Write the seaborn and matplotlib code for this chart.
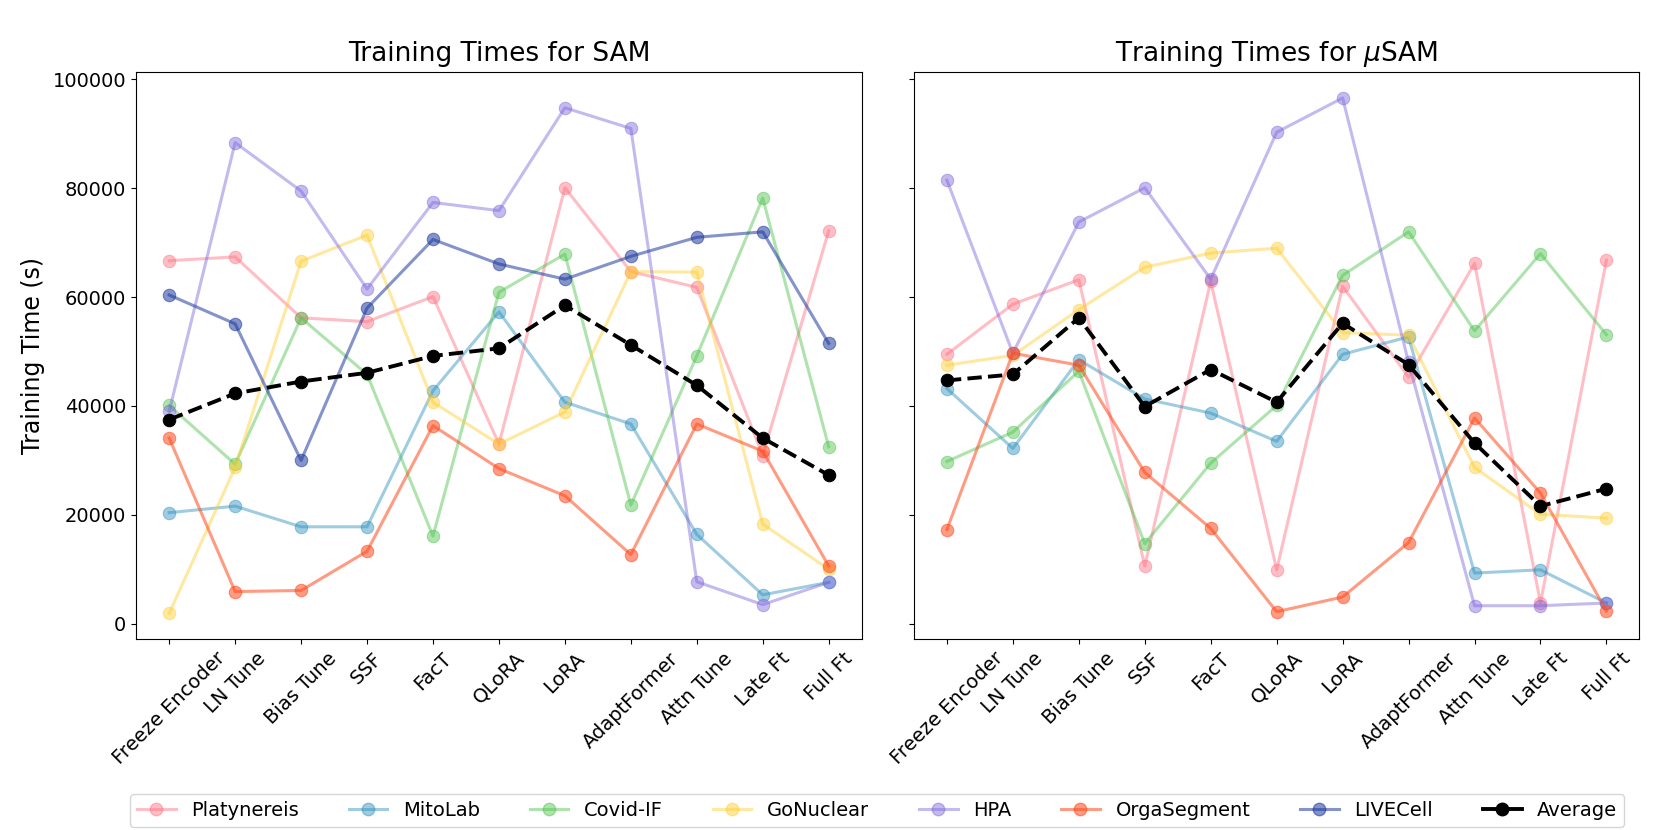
import numpy as np
import pandas as pd
import matplotlib
matplotlib.use("Agg")
import matplotlib.pyplot as plt
import seaborn as sns
from matplotlib.lines import Line2D

methods = ["Freeze Encoder", "LN Tune", "Bias Tune", "SSF", "FacT", "QLoRA",
           "LoRA", "AdaptFormer", "Attn Tune", "Late Ft", "Full Ft"]

datasets = ["Platynereis", "MitoLab", "Covid-IF", "GoNuclear", "HPA", "OrgaSegment", "LIVECell"]

# Training times for SAM (seconds)
sam_platynereis = [66700, 67400, 56200, 55500, 60100, 33000, 80100, 64700, 61800, 30900, 72200]
sam_mitolab     = [20400, 21600, 17800, 17800, 42800, 57300, 40700, 36700, 16400, 5300, 7600]
sam_covid       = [40100, 29300, 56200, 45800, 16100, 60900, 67900, 21800, 49200, 78200, 32500]
sam_gonuclear   = [1900, 28700, 66600, 71400, 40700, 33000, 38900, 64700, 64600, 18300, 10000]
sam_hpa         = [39000, 88400, 79500, 61500, 77400, 75900, 94800, 91000, 7700, 3500, 7600]
sam_orga        = [34100, 5900, 6100, 13300, 36400, 28500, 23500, 12700, 36700, 31700, 10600]
sam_livecell    = [60400, 55100, 30000, 58000, 70600, 66100, 63300, 67500, 71000, 72000, 51500]
sam_average     = [37500, 42300, 44500, 46100, 49200, 50600, 58500, 51200, 43800, 34100, 27300]

# Training times for muSAM (seconds)
musam_platynereis = [49500, 58700, 63200, 10600, 62900, 9900, 62000, 45300, 66200, 3800, 66800]
musam_mitolab     = [43200, 32200, 48500, 41300, 38700, 33500, 49500, 52700, 9300, 9900, 3800]
musam_covid       = [29800, 35200, 46400, 14700, 29500, 40100, 64000, 72000, 53800, 68000, 53100]
musam_gonuclear   = [47500, 49300, 57700, 65500, 68100, 69000, 53500, 53000, 28700, 20100, 19400]
musam_hpa         = [81500, 49700, 73800, 80100, 63300, 90300, 96600, 48000, 3300, 3300, 3800]
musam_orga        = [17300, 49700, 47500, 27800, 17500, 2200, 4900, 14900, 37800, 24000, 2300]
musam_average     = [44700, 45800, 56200, 39900, 46700, 40700, 55200, 47600, 33200, 21600, 24800]

colors = {
    "Platynereis": "#FF6F80",
    "MitoLab": "#2A8FBD",
    "Covid-IF": "#4CC24C",
    "GoNuclear": "#FFCC2E",
    "HPA": "#7D66DB",
    "OrgaSegment": "#FF4A1C",
    "LIVECell": "#1F3A9E",
}
alphas = {"OrgaSegment": 0.55, "LIVECell": 0.55}

sam = {"Platynereis": sam_platynereis, "MitoLab": sam_mitolab, "Covid-IF": sam_covid,
       "GoNuclear": sam_gonuclear, "HPA": sam_hpa, "OrgaSegment": sam_orga,
       "LIVECell": sam_livecell}
musam = {"Platynereis": musam_platynereis, "MitoLab": musam_mitolab, "Covid-IF": musam_covid,
         "GoNuclear": musam_gonuclear, "HPA": musam_hpa, "OrgaSegment": musam_orga}


def long_df(d):
    rows = []
    for name, vals in d.items():
        for m, v in zip(methods, vals):
            rows.append({"method": m, "time": v, "dataset": name})
    return pd.DataFrame(rows)


fig, axes = plt.subplots(1, 2, figsize=(16.61, 8.3), dpi=100, sharey=True)
fig.subplots_adjust(left=0.082, right=0.987, top=0.913, bottom=0.23, wspace=0.072)

panels = [(axes[0], sam, sam_average, "Training Times for SAM"),
          (axes[1], musam, musam_average, r"Training Times for $\mu$SAM")]

for ax, d, avg, title in panels:
    df = long_df(d)
    for name in d:
        sub = df[df["dataset"] == name]
        sns.lineplot(data=sub, x="method", y="time", color=colors[name], marker="o",
                     markersize=9, linewidth=2.2, alpha=alphas.get(name, 0.45),
                     markeredgecolor=colors[name], sort=False, ax=ax, label=None)
    avg_df = pd.DataFrame({"method": methods, "time": avg})
    sns.lineplot(data=avg_df, x="method", y="time", color="black", marker="o",
                 markersize=9, linewidth=2.8, linestyle="--", sort=False, ax=ax,
                 markeredgecolor="black")
    ax.set_title(title, fontsize=19, pad=8)
    ax.set_xlabel("")
    ax.set_ylabel("")
    ax.tick_params(axis="x", labelrotation=45, labelsize=14)
    ax.tick_params(axis="y", labelsize=14)
    if ax.get_legend() is not None:
        ax.get_legend().remove()

axes[0].set_ylabel("Training Time (s)", fontsize=17, labelpad=6)

handles = []
for name in datasets:
    handles.append(Line2D([0], [0], color=colors[name], marker="o", markersize=9,
                          linewidth=2.2, alpha=alphas.get(name, 0.45),
                          markeredgecolor=colors[name], label=name))
handles.append(Line2D([0], [0], color="black", marker="o", markersize=9,
                      linewidth=2.8, label="Average"))
fig.legend(handles=handles, loc="lower center", ncol=8, fontsize=14,
           bbox_to_anchor=(0.528, -0.008), frameon=True, columnspacing=2.55,
           borderpad=0.35)

fig.savefig("out.png", dpi=100)
